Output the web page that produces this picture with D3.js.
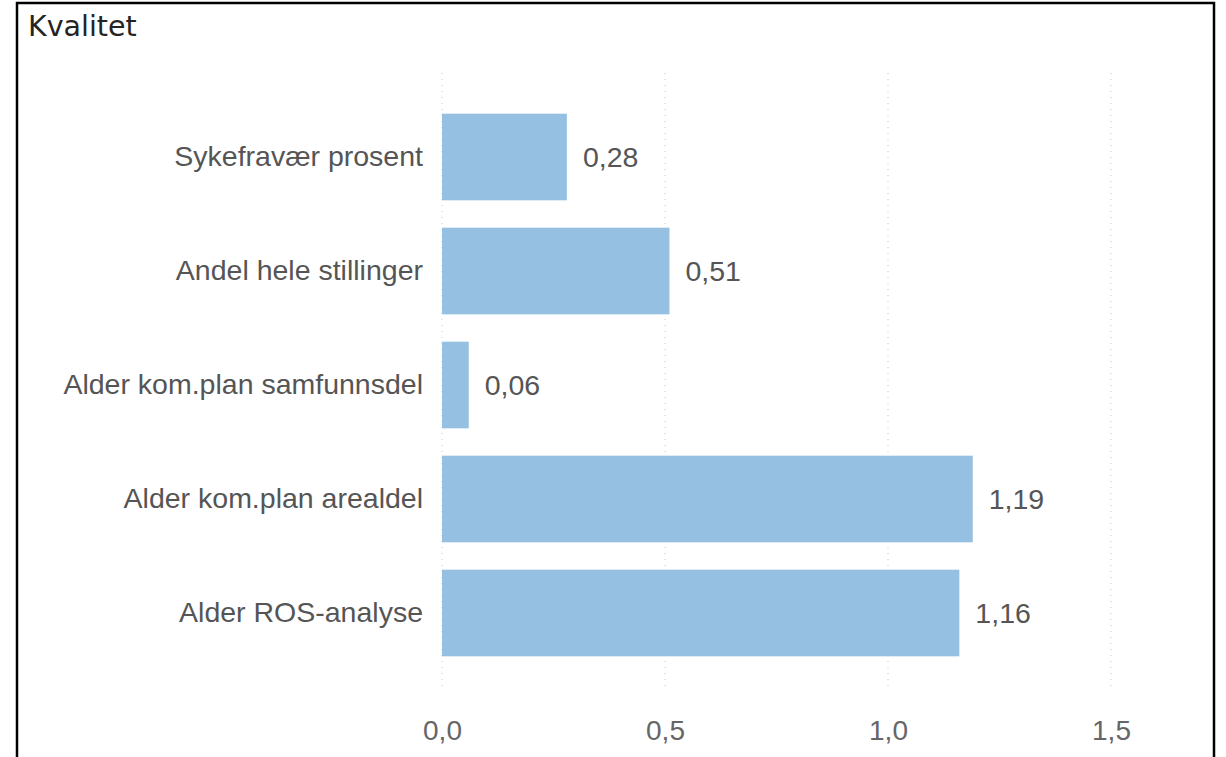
<!DOCTYPE html>
<html>
<head>
<meta charset="utf-8">
<script src="https://cdn.jsdelivr.net/npm/d3@7"></script>
<style>
    body { margin: 0; background: #fff; }
    svg { display: block; }
</style>
</head>
<body>
<script>
const categories = ['Sykefravær prosent', 'Andel hele stillinger', 'Alder kom.plan samfunnsdel', 'Alder kom.plan arealdel', 'Alder ROS-analyse'];
const values = [0.28, 0.51, 0.06, 1.19, 1.16];
const ticks = [0, 0.5, 1.0, 1.5];

const W = 1226, H = 757;
const svg = d3.select('body').append('svg')
    .attr('width', W)
    .attr('height', H);

// frame
svg.append('rect')
    .attr('x', 17).attr('y', 3)
    .attr('width', 1197).attr('height', 800)
    .attr('fill', 'none')
    .attr('stroke', '#000')
    .attr('stroke-width', 2.5);

svg.append('text')
    .attr('x', 28).attr('y', 36)
    .attr('font-family', '"DejaVu Sans"')
    .attr('font-size', 28.5)
    .attr('fill', '#252423')
    .text('Kvalitet');

const x = d3.scaleLinear().domain([0, 1.5]).range([442, 1111]);
const y = d3.scaleBand().domain(categories).range([100, 670])
    .paddingInner(0.24).paddingOuter(0.12);

const fmt = d => d3.format('.1f')(d).replace('.', ',');

// gridlines
svg.selectAll('.grid').data(ticks).enter().append('line')
    .attr('class', 'grid')
    .attr('x1', d => x(d)).attr('x2', d => x(d))
    .attr('y1', 73).attr('y2', 690)
    .attr('stroke', '#c8c8c8')
    .attr('stroke-width', 1)
    .attr('stroke-dasharray', '1,5');

// x axis labels
const xAxis = d3.axisBottom(x).tickValues(ticks).tickFormat(fmt).tickSize(0).tickPadding(0);
const gx = svg.append('g').attr('transform', 'translate(0,720)').call(xAxis);
gx.select('.domain').remove();
gx.selectAll('text')
    .attr('font-family', '"Liberation Sans", Arial')
    .attr('font-size', 28)
    .attr('fill', '#666');

// bars
svg.selectAll('.bar').data(values).enter().append('rect')
    .attr('class', 'bar')
    .attr('x', x(0))
    .attr('y', (d, i) => y(categories[i]))
    .attr('width', d => x(d) - x(0))
    .attr('height', y.bandwidth())
    .attr('fill', '#96c0e1');

// category labels
const yAxis = d3.axisLeft(y).tickSize(0).tickPadding(19);
const gy = svg.append('g').attr('transform', `translate(${x(0)},0)`).call(yAxis);
gy.select('.domain').remove();
gy.selectAll('text')
    .attr('font-family', '"Liberation Sans", Arial')
    .attr('font-size', 28.5)
    .attr('fill', '#555');

// value labels
svg.selectAll('.val').data(values).enter().append('text')
    .attr('class', 'val')
    .attr('x', d => x(d) + 16)
    .attr('y', (d, i) => y(categories[i]) + y.bandwidth() / 2)
    .attr('dy', '0.35em')
    .attr('font-family', '"Liberation Sans", Arial')
    .attr('font-size', 28.5)
    .attr('fill', '#555')
    .text(d => d3.format('.2f')(d).replace('.', ','));
</script>
</body>
</html>
